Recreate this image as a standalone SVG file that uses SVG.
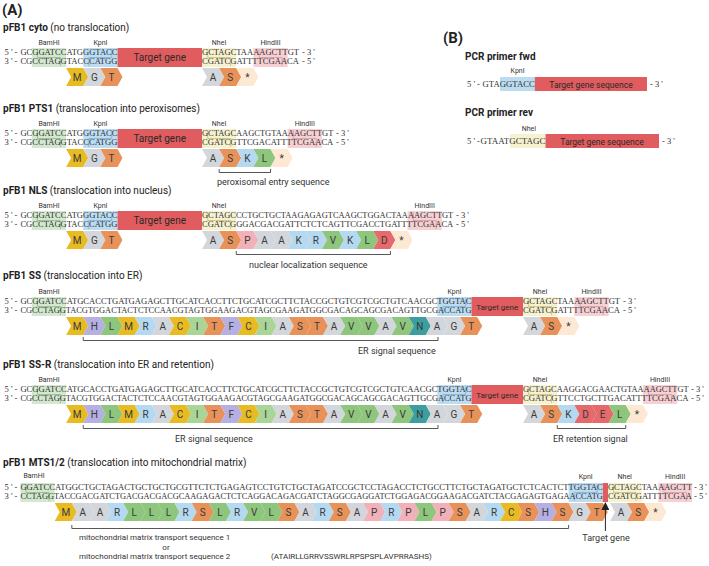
<svg xmlns="http://www.w3.org/2000/svg" xmlns:xlink="http://www.w3.org/1999/xlink" width="709" height="566" viewBox="0 0 709 566">
<style>
.t{font-family:Roboto,"Liberation Sans",sans-serif;fill:#222}
.title{font-size:10px}
.b{font-weight:bold}
.big{font-size:15px;font-weight:bold}
.lab{font-family:Roboto,"Liberation Sans",sans-serif;font-size:7px;text-anchor:middle;fill:#333}
.seq{font-family:"Liberation Serif","Times New Roman",serif;font-size:8.5px;fill:#333}
.aa{font-family:Roboto,"Liberation Sans",sans-serif;font-size:10px;text-anchor:middle;fill:#3a3a3a}
.tg{fill:#e05c5e}
.tgt{font-family:Roboto,"Liberation Sans",sans-serif;font-size:10px;text-anchor:middle;fill:#2a2a2a}
.note{font-family:Roboto,"Liberation Sans",sans-serif;font-size:9px;fill:#333}
.small{font-size:8px}
.brk{fill:none;stroke:#444;stroke-width:0.9}
.bam{fill:#d3e8cf}.kpn{fill:#bcdcf2}.nhe{fill:#f6f1cf}.hin{fill:#f6d0d3}
.cut{fill:none;stroke-width:0.7}
.bamL{stroke:#7fb279}.kpnL{stroke:#6ea6d6}.nheL{stroke:#c4b65e}.hinL{stroke:#d48e95}
.Y{fill:#e9bb22}.Gy{fill:#d3d7dc}.O{fill:#e8925a}.B{fill:#b4d9f1}.Gr{fill:#8ec67d}.I{fill:#a9d596}
.P{fill:#f2b1b8}.R{fill:#e6696b}.Lv{fill:#b6b0e2}.N{fill:#3c9e9e}.St{fill:#fde8d4}
</style>
<defs>
<path id="ch" d="M0,0h17.13l5,9l-5,9h-17.13l5,-9z"/>
<marker id="arr" markerWidth="8" markerHeight="8" refX="4" refY="4" orient="auto" markerUnits="userSpaceOnUse">
<path d="M0,0L8,4L0,8z" fill="#222"/>
</marker>
</defs>

<text class="t big" x="2" y="15">(A)</text>

<!-- pFB1 cyto -->
<g id="cyto">
<text class="t title" x="3" y="31"><tspan class="b">pFB1 cyto</tspan> (no translocation)</text>
<rect class="bam" x="31.82" y="48" width="34.26" height="19"/>
<rect class="kpn" x="83.23" y="48" width="34.26" height="19"/>
<rect class="nhe" x="202" y="48" width="34.26" height="19"/>
<rect class="hin" x="253.39" y="48" width="34.26" height="19"/>
<path class="cut bamL" d="M37.53,49V57.5H60.37V66"/>
<path class="cut kpnL" d="M111.78,49V57.5H88.94V66"/>
<path class="cut nheL" d="M207.71,49V57.5H230.55V66"/>
<path class="cut hinL" d="M259.1,49V57.5H281.94V66"/>
<text class="lab" x="49" y="45">BamHI</text>
<text class="lab" x="100.4" y="45">KpnI</text>
<text class="lab" x="219.1" y="45">NheI</text>
<text class="lab" x="270.5" y="45">HindIII</text>
<rect class="tg" x="117.5" y="48" width="84.5" height="19"/>
<text class="tgt" x="159.7" y="61">Target gene</text>
<text class="seq" x="4.5" y="55">5 ' -</text>
<text class="seq" x="20.4" y="55" textLength="97.07" lengthAdjust="spacingAndGlyphs">GCGGATCCATGGGTACC</text>
<text class="seq" x="4.5" y="64">3 ' -</text>
<text class="seq" x="20.4" y="64" textLength="97.07" lengthAdjust="spacingAndGlyphs">CGCCTAGGTACCCATGG</text>
<text class="seq" x="202" y="55" textLength="97.07" lengthAdjust="spacingAndGlyphs">GCTAGCTAAAAGCTTGT</text>
<text class="seq" x="302" y="55">- 3 '</text>
<text class="seq" x="202" y="64" textLength="97.07" lengthAdjust="spacingAndGlyphs">CGATCGATTTTCGAACA</text>
<text class="seq" x="302" y="64">- 5 '</text>
<g transform="translate(66.1,68)">
<use href="#ch" x="0" class="Y"/><use href="#ch" x="17.13" class="Gy"/><use href="#ch" x="34.26" class="O"/>
<text class="aa" x="11.07" y="12.6">M</text><text class="aa" x="28.2" y="12.6">G</text><text class="aa" x="45.33" y="12.6">T</text>
</g>
<g transform="translate(202,68)">
<use href="#ch" x="0" class="Gy"/><use href="#ch" x="17.13" class="O"/><use href="#ch" x="34.26" class="St"/>
<text class="aa" x="11.07" y="12.6">A</text><text class="aa" x="28.2" y="12.6">S</text><text class="aa" x="45.33" y="12.6">*</text>
</g>
</g>

<!-- pFB1 PTS1 -->
<g id="pts1">
<text class="t title" x="3" y="112"><tspan class="b">pFB1 PTS1</tspan> (translocation into peroxisomes)</text>
<rect class="bam" x="31.82" y="129" width="34.26" height="19"/>
<rect class="kpn" x="83.23" y="129" width="34.26" height="19"/>
<rect class="nhe" x="202" y="129" width="34.26" height="19"/>
<rect class="hin" x="287.65" y="129" width="34.26" height="19"/>
<path class="cut bamL" d="M37.53,130V138.5H60.37V147"/>
<path class="cut kpnL" d="M111.78,130V138.5H88.94V147"/>
<path class="cut nheL" d="M207.71,130V138.5H230.55V147"/>
<path class="cut hinL" d="M293.36,130V138.5H316.2V147"/>
<text class="lab" x="49" y="126">BamHI</text>
<text class="lab" x="100.4" y="126">KpnI</text>
<text class="lab" x="219.1" y="126">NheI</text>
<text class="lab" x="304.8" y="126">HindIII</text>
<rect class="tg" x="117.5" y="129" width="84.5" height="19"/>
<text class="tgt" x="159.7" y="142">Target gene</text>
<text class="seq" x="4.5" y="136">5 ' -</text>
<text class="seq" x="20.4" y="136" textLength="97.07" lengthAdjust="spacingAndGlyphs">GCGGATCCATGGGTACC</text>
<text class="seq" x="4.5" y="145">3 ' -</text>
<text class="seq" x="20.4" y="145" textLength="97.07" lengthAdjust="spacingAndGlyphs">CGCCTAGGTACCCATGG</text>
<text class="seq" x="202" y="136" textLength="131.33" lengthAdjust="spacingAndGlyphs">GCTAGCAAGCTGTAAAAGCTTGT</text>
<text class="seq" x="336" y="136">- 3 '</text>
<text class="seq" x="202" y="145" textLength="131.33" lengthAdjust="spacingAndGlyphs">CGATCGTTCGACATTTTCGAACA</text>
<text class="seq" x="336" y="145">- 5 '</text>
<g transform="translate(66.1,149)">
<use href="#ch" x="0" class="Y"/><use href="#ch" x="17.13" class="Gy"/><use href="#ch" x="34.26" class="O"/>
<text class="aa" x="11.07" y="12.6">M</text><text class="aa" x="28.2" y="12.6">G</text><text class="aa" x="45.33" y="12.6">T</text>
</g>
<g transform="translate(202,149)">
<use href="#ch" x="0" class="Gy"/><use href="#ch" x="17.13" class="O"/><use href="#ch" x="34.26" class="B"/><use href="#ch" x="51.39" class="Gr"/><use href="#ch" x="68.52" class="St"/>
<text class="aa" x="11.07" y="12.6">A</text><text class="aa" x="28.2" y="12.6">S</text><text class="aa" x="45.33" y="12.6">K</text><text class="aa" x="62.46" y="12.6">L</text><text class="aa" x="79.59" y="12.6">*</text>
</g>
<text class="note" x="217" y="185">peroxisomal entry sequence</text>
</g>

<!-- pFB1 NLS -->
<g id="nls">
<text class="t title" x="3" y="194"><tspan class="b">pFB1 NLS</tspan> (translocation into nucleus)</text>
<rect class="bam" x="31.82" y="211" width="34.26" height="19"/>
<rect class="kpn" x="83.23" y="211" width="34.26" height="19"/>
<rect class="nhe" x="202" y="211" width="34.26" height="19"/>
<rect class="hin" x="407.56" y="211" width="34.26" height="19"/>
<path class="cut bamL" d="M37.53,212V220.5H60.37V229"/>
<path class="cut kpnL" d="M111.78,212V220.5H88.94V229"/>
<path class="cut nheL" d="M207.71,212V220.5H230.55V229"/>
<path class="cut hinL" d="M413.27,212V220.5H436.11V229"/>
<text class="lab" x="49" y="208">BamHI</text>
<text class="lab" x="100.4" y="208">KpnI</text>
<text class="lab" x="219.1" y="208">NheI</text>
<text class="lab" x="424.7" y="208">HindIII</text>
<rect class="tg" x="117.5" y="211" width="84.5" height="19"/>
<text class="tgt" x="159.7" y="224">Target gene</text>
<text class="seq" x="4.5" y="218">5 ' -</text>
<text class="seq" x="20.4" y="218" textLength="97.07" lengthAdjust="spacingAndGlyphs">GCGGATCCATGGGTACC</text>
<text class="seq" x="4.5" y="227">3 ' -</text>
<text class="seq" x="20.4" y="227" textLength="97.07" lengthAdjust="spacingAndGlyphs">CGCCTAGGTACCCATGG</text>
<text class="seq" x="202" y="218" textLength="251.24" lengthAdjust="spacingAndGlyphs">GCTAGCCCTGCTGCTAAGAGAGTCAAGCTGGACTAAAAGCTTGT</text>
<text class="seq" x="456" y="218">- 3 '</text>
<text class="seq" x="202" y="227" textLength="251.24" lengthAdjust="spacingAndGlyphs">CGATCGGGACGACGATTCTCTCAGTTCGACCTGATTTTCGAACA</text>
<text class="seq" x="456" y="227">- 5 '</text>
<g transform="translate(66.1,231)">
<use href="#ch" x="0" class="Y"/><use href="#ch" x="17.13" class="Gy"/><use href="#ch" x="34.26" class="O"/>
<text class="aa" x="11.07" y="12.6">M</text><text class="aa" x="28.2" y="12.6">G</text><text class="aa" x="45.33" y="12.6">T</text>
</g>
<g transform="translate(202,231)">
<use href="#ch" x="0" class="Gy"/><use href="#ch" x="17.13" class="O"/><use href="#ch" x="34.26" class="P"/><use href="#ch" x="51.39" class="Gy"/><use href="#ch" x="68.52" class="Gy"/><use href="#ch" x="85.65" class="B"/><use href="#ch" x="102.78" class="B"/><use href="#ch" x="119.91" class="Gr"/><use href="#ch" x="137.04" class="B"/><use href="#ch" x="154.17" class="Gr"/><use href="#ch" x="171.3" class="R"/><use href="#ch" x="188.43" class="St"/>
<text class="aa" x="11.07" y="12.6">A</text><text class="aa" x="28.2" y="12.6">S</text><text class="aa" x="45.33" y="12.6">P</text><text class="aa" x="62.46" y="12.6">A</text><text class="aa" x="79.59" y="12.6">A</text><text class="aa" x="96.72" y="12.6">K</text><text class="aa" x="113.85" y="12.6">R</text><text class="aa" x="130.98" y="12.6">V</text><text class="aa" x="148.11" y="12.6">K</text><text class="aa" x="165.24" y="12.6">L</text><text class="aa" x="182.37" y="12.6">D</text><text class="aa" x="199.5" y="12.6">*</text>
</g>
<text class="note" x="249" y="268">nuclear localization sequence</text>
</g>

<!-- pFB1 SS -->
<g id="ss">
<text class="t title" x="3" y="279"><tspan class="b">pFB1 SS</tspan> (translocation into ER)</text>
<rect class="bam" x="31.82" y="297" width="34.26" height="19"/>
<rect class="kpn" x="437.23" y="297" width="34.26" height="19"/>
<rect class="nhe" x="523" y="297" width="34.26" height="19"/>
<rect class="hin" x="574.39" y="297" width="34.26" height="19"/>
<path class="cut bamL" d="M37.53,298V306.5H60.37V315"/>
<path class="cut kpnL" d="M465.78,298V306.5H442.94V315"/>
<path class="cut nheL" d="M528.71,298V306.5H551.55V315"/>
<path class="cut hinL" d="M580.1,298V306.5H602.94V315"/>
<text class="lab" x="49" y="294">BamHI</text>
<text class="lab" x="454.4" y="294">KpnI</text>
<text class="lab" x="540.1" y="294">NheI</text>
<text class="lab" x="591.5" y="294">HindIII</text>
<rect class="tg" x="471.49" y="297" width="51.51" height="19"/>
<text class="tgt" x="497.2" y="309.5" style="font-size:8px">Target gene</text>
<text class="seq" x="4.5" y="304">5 ' -</text>
<text class="seq" x="20.4" y="304" textLength="451.09" lengthAdjust="spacingAndGlyphs">GCGGATCCATGCACCTGATGAGAGCTTGCATCACCTTCTGCATCGCTTCTACCGCTGTCGTCGCTGTCAACGCTGGTAC</text>
<text class="seq" x="4.5" y="313">3 ' -</text>
<text class="seq" x="20.4" y="313" textLength="451.09" lengthAdjust="spacingAndGlyphs">CGCCTAGGTACGTGGACTACTCTCCAACGTAGTGGAAGACGTAGCGAAGATGGCGACAGCAGCGACAGTTGCGACCATG</text>
<text class="seq" x="523" y="304" textLength="97.07" lengthAdjust="spacingAndGlyphs">GCTAGCTAAAAGCTTGT</text>
<text class="seq" x="623" y="304">- 3 '</text>
<text class="seq" x="523" y="313" textLength="97.07" lengthAdjust="spacingAndGlyphs">CGATCGATTTTCGAACA</text>
<text class="seq" x="623" y="313">- 5 '</text>
<g id="ssrow" transform="translate(66.1,317)">
<use href="#ch" x="0" class="Y"/><use href="#ch" x="17.13" class="Lv"/><use href="#ch" x="34.26" class="Gr"/><use href="#ch" x="51.39" class="Y"/><use href="#ch" x="68.52" class="B"/><use href="#ch" x="85.65" class="Gy"/><use href="#ch" x="102.78" class="Y"/><use href="#ch" x="119.91" class="I"/><use href="#ch" x="137.04" class="O"/><use href="#ch" x="154.17" class="Lv"/><use href="#ch" x="171.3" class="Y"/><use href="#ch" x="188.43" class="I"/><use href="#ch" x="205.56" class="Gy"/><use href="#ch" x="222.69" class="O"/><use href="#ch" x="239.82" class="O"/><use href="#ch" x="256.95" class="Gy"/><use href="#ch" x="274.08" class="Gr"/><use href="#ch" x="291.21" class="Gr"/><use href="#ch" x="308.34" class="Gy"/><use href="#ch" x="325.47" class="Gr"/><use href="#ch" x="342.6" class="N"/><use href="#ch" x="359.73" class="Gy"/><use href="#ch" x="376.86" class="Gy"/><use href="#ch" x="393.99" class="O"/>
<text class="aa" x="11.07" y="12.6">M</text><text class="aa" x="28.2" y="12.6">H</text><text class="aa" x="45.33" y="12.6">L</text><text class="aa" x="62.46" y="12.6">M</text><text class="aa" x="79.59" y="12.6">R</text><text class="aa" x="96.72" y="12.6">A</text><text class="aa" x="113.85" y="12.6">C</text><text class="aa" x="130.98" y="12.6">I</text><text class="aa" x="148.11" y="12.6">T</text><text class="aa" x="165.24" y="12.6">F</text><text class="aa" x="182.37" y="12.6">C</text><text class="aa" x="199.5" y="12.6">I</text><text class="aa" x="216.63" y="12.6">A</text><text class="aa" x="233.76" y="12.6">S</text><text class="aa" x="250.89" y="12.6">T</text><text class="aa" x="268.02" y="12.6">A</text><text class="aa" x="285.15" y="12.6">V</text><text class="aa" x="302.28" y="12.6">V</text><text class="aa" x="319.41" y="12.6">A</text><text class="aa" x="336.54" y="12.6">V</text><text class="aa" x="353.67" y="12.6">N</text><text class="aa" x="370.8" y="12.6">A</text><text class="aa" x="387.93" y="12.6">G</text><text class="aa" x="405.06" y="12.6">T</text>
</g>
<g transform="translate(523,317)">
<use href="#ch" x="0" class="Gy"/><use href="#ch" x="17.13" class="O"/><use href="#ch" x="34.26" class="St"/>
<text class="aa" x="11.07" y="12.6">A</text><text class="aa" x="28.2" y="12.6">S</text><text class="aa" x="45.33" y="12.6">*</text>
</g>
<text class="note" x="358" y="354">ER signal sequence</text>
</g>

<!-- pFB1 SS-R -->
<g id="ssr">
<text class="t title" x="3" y="368"><tspan class="b">pFB1 SS-R</tspan> (translocation into ER and retention)</text>
<rect class="bam" x="31.82" y="385" width="34.26" height="19"/>
<rect class="kpn" x="437.23" y="385" width="34.26" height="19"/>
<rect class="nhe" x="523" y="385" width="34.26" height="19"/>
<rect class="hin" x="642.91" y="385" width="34.26" height="19"/>
<path class="cut bamL" d="M37.53,386V394.5H60.37V403"/>
<path class="cut kpnL" d="M465.78,386V394.5H442.94V403"/>
<path class="cut nheL" d="M528.71,386V394.5H551.55V403"/>
<path class="cut hinL" d="M648.62,386V394.5H671.46V403"/>
<text class="lab" x="49" y="382">BamHI</text>
<text class="lab" x="454.4" y="382">KpnI</text>
<text class="lab" x="540.1" y="382">NheI</text>
<text class="lab" x="660" y="382">HindIII</text>
<rect class="tg" x="471.49" y="385" width="51.51" height="19"/>
<text class="tgt" x="497.2" y="397.5" style="font-size:8px">Target gene</text>
<text class="seq" x="4.5" y="392">5 ' -</text>
<text class="seq" x="20.4" y="392" textLength="451.09" lengthAdjust="spacingAndGlyphs">GCGGATCCATGCACCTGATGAGAGCTTGCATCACCTTCTGCATCGCTTCTACCGCTGTCGTCGCTGTCAACGCTGGTAC</text>
<text class="seq" x="4.5" y="401">3 ' -</text>
<text class="seq" x="20.4" y="401" textLength="451.09" lengthAdjust="spacingAndGlyphs">CGCCTAGGTACGTGGACTACTCTCCAACGTAGTGGAAGACGTAGCGAAGATGGCGACAGCAGCGACAGTTGCGACCATG</text>
<text class="seq" x="523" y="392" textLength="165.59" lengthAdjust="spacingAndGlyphs">GCTAGCAAGGACGAACTGTAAAAGCTTGT</text>
<text class="seq" x="691" y="392">- 3 '</text>
<text class="seq" x="523" y="401" textLength="165.59" lengthAdjust="spacingAndGlyphs">CGATCGTTCCTGCTTGACATTTTCGAACA</text>
<text class="seq" x="691" y="401">- 5 '</text>
<g transform="translate(66.1,405)">
<use href="#ch" x="0" class="Y"/><use href="#ch" x="17.13" class="Lv"/><use href="#ch" x="34.26" class="Gr"/><use href="#ch" x="51.39" class="Y"/><use href="#ch" x="68.52" class="B"/><use href="#ch" x="85.65" class="Gy"/><use href="#ch" x="102.78" class="Y"/><use href="#ch" x="119.91" class="I"/><use href="#ch" x="137.04" class="O"/><use href="#ch" x="154.17" class="Lv"/><use href="#ch" x="171.3" class="Y"/><use href="#ch" x="188.43" class="I"/><use href="#ch" x="205.56" class="Gy"/><use href="#ch" x="222.69" class="O"/><use href="#ch" x="239.82" class="O"/><use href="#ch" x="256.95" class="Gy"/><use href="#ch" x="274.08" class="Gr"/><use href="#ch" x="291.21" class="Gr"/><use href="#ch" x="308.34" class="Gy"/><use href="#ch" x="325.47" class="Gr"/><use href="#ch" x="342.6" class="N"/><use href="#ch" x="359.73" class="Gy"/><use href="#ch" x="376.86" class="Gy"/><use href="#ch" x="393.99" class="O"/>
<text class="aa" x="11.07" y="12.6">M</text><text class="aa" x="28.2" y="12.6">H</text><text class="aa" x="45.33" y="12.6">L</text><text class="aa" x="62.46" y="12.6">M</text><text class="aa" x="79.59" y="12.6">R</text><text class="aa" x="96.72" y="12.6">A</text><text class="aa" x="113.85" y="12.6">C</text><text class="aa" x="130.98" y="12.6">I</text><text class="aa" x="148.11" y="12.6">T</text><text class="aa" x="165.24" y="12.6">F</text><text class="aa" x="182.37" y="12.6">C</text><text class="aa" x="199.5" y="12.6">I</text><text class="aa" x="216.63" y="12.6">A</text><text class="aa" x="233.76" y="12.6">S</text><text class="aa" x="250.89" y="12.6">T</text><text class="aa" x="268.02" y="12.6">A</text><text class="aa" x="285.15" y="12.6">V</text><text class="aa" x="302.28" y="12.6">V</text><text class="aa" x="319.41" y="12.6">A</text><text class="aa" x="336.54" y="12.6">V</text><text class="aa" x="353.67" y="12.6">N</text><text class="aa" x="370.8" y="12.6">A</text><text class="aa" x="387.93" y="12.6">G</text><text class="aa" x="405.06" y="12.6">T</text>
</g>
<g transform="translate(523,405)">
<use href="#ch" x="0" class="Gy"/><use href="#ch" x="17.13" class="O"/><use href="#ch" x="34.26" class="B"/><use href="#ch" x="51.39" class="R"/><use href="#ch" x="68.52" class="R"/><use href="#ch" x="85.65" class="Gr"/><use href="#ch" x="102.78" class="St"/>
<text class="aa" x="11.07" y="12.6">A</text><text class="aa" x="28.2" y="12.6">S</text><text class="aa" x="45.33" y="12.6">K</text><text class="aa" x="62.46" y="12.6">D</text><text class="aa" x="79.59" y="12.6">E</text><text class="aa" x="96.72" y="12.6">L</text><text class="aa" x="113.85" y="12.6">*</text>
</g>
<text class="note" x="175" y="442">ER signal sequence</text>
<text class="note" x="553" y="442">ER retention signal</text>
</g>

<!-- pFB1 MTS1/2 -->
<g id="mts">
<text class="t title" x="3" y="466"><tspan class="b">pFB1 MTS1/2</tspan> (translocation into mitochondrial matrix)</text>
<rect class="bam" x="20.4" y="483" width="34.26" height="19"/>
<rect class="kpn" x="568.56" y="483" width="34.26" height="19"/>
<rect class="nhe" x="608" y="483" width="33.6" height="19"/>
<rect class="hin" x="658.4" y="483" width="33.6" height="19"/>
<path class="cut bamL" d="M26.11,484V492.5H48.95V501"/>
<path class="cut kpnL" d="M597.11,484V492.5H574.27V501"/>
<path class="cut nheL" d="M613.6,484V492.5H636V501"/>
<path class="cut hinL" d="M664,484V492.5H686.4V501"/>
<text class="lab" x="34" y="478">BamHI</text>
<text class="lab" x="585.7" y="479">KpnI</text>
<text class="lab" x="624.8" y="479">NheI</text>
<text class="lab" x="675.2" y="479">HindIII</text>
<rect class="tg" x="602.82" y="483" width="5.18" height="19"/>
<text class="seq" x="4.5" y="490">5 ' -</text>
<text class="seq" x="20.4" y="490" textLength="582.42" lengthAdjust="spacingAndGlyphs">GGATCCATGGCTGCTAGACTGCTGCTGCGTTCTCTGAGAGTCCTGTCTGCTAGATCCGCTCCTAGACCTCTGCCTTCTGCTAGATGCTCTCACTCTTGGTAC</text>
<text class="seq" x="4.5" y="499">3 ' -</text>
<text class="seq" x="20.4" y="499" textLength="582.42" lengthAdjust="spacingAndGlyphs">CCTAGGTACCGACGATCTGACGACGACGCAAGAGACTCTCAGGACAGACGATCTAGGCGAGGATCTGGAGACGGAAGACGATCTACGAGAGTGAGAACCATG</text>
<text class="seq" x="608" y="490" textLength="84" lengthAdjust="spacingAndGlyphs">GCTAGCTAAAAGCTT</text>
<text class="seq" x="694" y="490">- 3 '</text>
<text class="seq" x="608" y="499" textLength="84" lengthAdjust="spacingAndGlyphs">CGATCGATTTTCGAA</text>
<text class="seq" x="694" y="499">- 5 '</text>
<g transform="translate(54.7,503)">
<use href="#ch" x="0" class="Y"/><use href="#ch" x="17.13" class="Gy"/><use href="#ch" x="34.26" class="Gy"/><use href="#ch" x="51.39" class="B"/><use href="#ch" x="68.52" class="Gr"/><use href="#ch" x="85.65" class="Gr"/><use href="#ch" x="102.78" class="Gr"/><use href="#ch" x="119.91" class="B"/><use href="#ch" x="137.04" class="O"/><use href="#ch" x="154.17" class="Gr"/><use href="#ch" x="171.3" class="B"/><use href="#ch" x="188.43" class="Gr"/><use href="#ch" x="205.56" class="Gr"/><use href="#ch" x="222.69" class="O"/><use href="#ch" x="239.82" class="Gy"/><use href="#ch" x="256.95" class="B"/><use href="#ch" x="274.08" class="O"/><use href="#ch" x="291.21" class="Gy"/><use href="#ch" x="308.34" class="P"/><use href="#ch" x="325.47" class="B"/><use href="#ch" x="342.6" class="P"/><use href="#ch" x="359.73" class="Gr"/><use href="#ch" x="376.86" class="P"/><use href="#ch" x="393.99" class="O"/><use href="#ch" x="411.12" class="Gy"/><use href="#ch" x="428.25" class="B"/><use href="#ch" x="445.38" class="Y"/><use href="#ch" x="462.51" class="O"/><use href="#ch" x="479.64" class="Lv"/><use href="#ch" x="496.77" class="O"/><use href="#ch" x="513.9" class="Gy"/><use href="#ch" x="531.03" class="O"/>
<text class="aa" x="11.07" y="12.6">M</text><text class="aa" x="28.2" y="12.6">A</text><text class="aa" x="45.33" y="12.6">A</text><text class="aa" x="62.46" y="12.6">R</text><text class="aa" x="79.59" y="12.6">L</text><text class="aa" x="96.72" y="12.6">L</text><text class="aa" x="113.85" y="12.6">L</text><text class="aa" x="130.98" y="12.6">R</text><text class="aa" x="148.11" y="12.6">S</text><text class="aa" x="165.24" y="12.6">L</text><text class="aa" x="182.37" y="12.6">R</text><text class="aa" x="199.5" y="12.6">V</text><text class="aa" x="216.63" y="12.6">L</text><text class="aa" x="233.76" y="12.6">S</text><text class="aa" x="250.89" y="12.6">A</text><text class="aa" x="268.02" y="12.6">R</text><text class="aa" x="285.15" y="12.6">S</text><text class="aa" x="302.28" y="12.6">A</text><text class="aa" x="319.41" y="12.6">P</text><text class="aa" x="336.54" y="12.6">R</text><text class="aa" x="353.67" y="12.6">P</text><text class="aa" x="370.8" y="12.6">L</text><text class="aa" x="387.93" y="12.6">P</text><text class="aa" x="405.06" y="12.6">S</text><text class="aa" x="422.19" y="12.6">A</text><text class="aa" x="439.32" y="12.6">R</text><text class="aa" x="456.45" y="12.6">C</text><text class="aa" x="473.58" y="12.6">S</text><text class="aa" x="490.71" y="12.6">H</text><text class="aa" x="507.84" y="12.6">S</text><text class="aa" x="524.97" y="12.6">G</text><text class="aa" x="542.1" y="12.6">T</text>
</g>
<g transform="translate(610,503)">
<use href="#ch" x="0" class="Gy"/><use href="#ch" x="17.13" class="O"/><use href="#ch" x="34.26" class="St"/>
<text class="aa" x="11.07" y="12.6">A</text><text class="aa" x="28.2" y="12.6">S</text><text class="aa" x="45.33" y="12.6">*</text>
</g>
<text class="note" x="606" y="541" text-anchor="middle">Target gene</text>
<text class="note small" x="79" y="540">mitochondrial matrix transport sequence 1</text>
<text class="note small" x="166" y="549.5" text-anchor="middle">or</text>
<text class="note small" x="79" y="559">mitochondrial matrix transport sequence 2</text>
<text class="note small" x="271" y="559">(ATAIRLLGRRVSSWRLRPSPSPLAVPRRASHS)</text>
</g>

<!-- (B) -->
<g id="primers">
<text class="t big" x="443" y="43">(B)</text>
<g id="fwd">
<text class="t title b" x="465" y="60">PCR primer fwd</text>
<rect class="kpn" x="500" y="77" width="34.8" height="14"/>
<rect class="tg" x="534.8" y="77" width="112.2" height="14"/>
<text class="lab" x="517.6" y="73">KpnI</text>
<text class="seq" x="467" y="87">5 ' -</text>
<text class="seq" x="482.6" y="87" textLength="52.2" lengthAdjust="spacingAndGlyphs">GTAGGTACC</text>
<text class="tgt" x="591" y="87.5" style="font-size:8.5px">Target gene sequence</text>
<text class="seq" x="650" y="87">- 3 '</text>
</g>
<g id="rev">
<text class="t title b" x="465" y="116">PCR primer rev</text>
<rect class="nhe" x="510" y="134" width="35.5" height="14"/>
<rect class="tg" x="545.5" y="134" width="113.5" height="14"/>
<text class="lab" x="529" y="131">NheI</text>
<text class="seq" x="467" y="144">5 ' -</text>
<text class="seq" x="480.5" y="144" textLength="65" lengthAdjust="spacingAndGlyphs">GTAATGCTAGC</text>
<text class="tgt" x="602" y="144.5" style="font-size:8.5px">Target gene sequence</text>
<text class="seq" x="662" y="144">- 3 '</text>
</g>
</g>

<!-- connectors: brackets and arrow -->
<g id="connectors">
<path class="brk" d="M219.13,169V172.5H270.52V169"/>
<path class="brk" d="M236.26,251V254.5H390.43V251"/>
<path class="brk" d="M83.23,337V340.5H438V337"/>
<path class="brk" d="M83.23,425V428.5H438V425"/>
<path class="brk" d="M557.26,425V428.5H625.78V425"/>
<path class="brk" d="M71.83,525V528.5H568.6V525"/>
<line x1="605.4" y1="531" x2="605.4" y2="506" stroke="#222" stroke-width="1" marker-end="url(#arr)"/>
</g>
</svg>
